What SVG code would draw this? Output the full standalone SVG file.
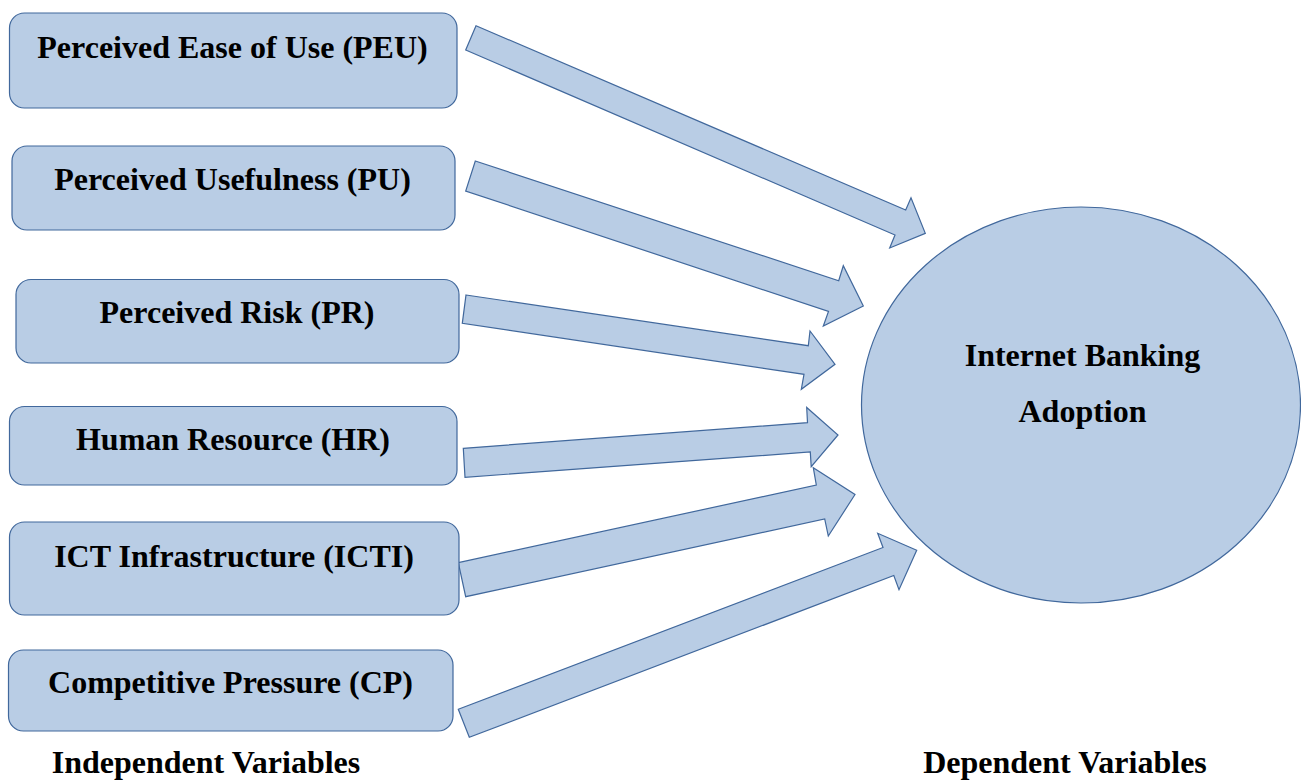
<svg xmlns="http://www.w3.org/2000/svg" width="1301" height="780" viewBox="0 0 1301 780">
<style>
.box{fill:#b9cde5;stroke:#41689c;stroke-width:1.2}
.arr{fill:#b9cde5;stroke:#41689c;stroke-width:1.2;stroke-linejoin:miter}
.t{font-weight:bold;font-size:32px;fill:#000;text-anchor:middle}
</style>
<rect width="1301" height="780" fill="#ffffff"/>
<g id="connectors">
<polygon class="arr" points="476,25.7 905.7,210 911,197.7 925.3,233.3 889.7,248 895,235 465.7,50"/>
<polygon class="arr" points="475.3,161 838.7,280.7 843.3,265.7 863.3,306 823.3,326 828.5,311.5 465.7,191"/>
<polygon class="arr" points="466,295 808.3,345.7 810,331 835,364.3 801.3,389.3 804,374.3 462.3,323.3"/>
<polygon class="arr" points="463.3,448.3 807.5,422.7 806.7,407.5 838,435 811.2,466.7 810.3,452 465,477.3"/>
<polygon class="arr" points="458.3,562.7 816.3,485 813.3,467.7 855,494.5 828.3,536 824.7,519 465.7,596.7"/>
<polygon class="arr" points="458.3,709.3 883,547.5 877.7,533.3 916.7,550.3 899,589.7 893.8,575.5 469.3,737.3"/>
</g>
<g font-family="'Liberation Serif', 'Times New Roman', 'DejaVu Serif', serif">
<g id="peu">
<rect class="box" x="9.5" y="13" width="447.5" height="95" rx="15"/>
<text class="t" x="232.5" y="58">Perceived Ease of Use (PEU)</text>
</g>
<g id="pu">
<rect class="box" x="12" y="146" width="443" height="84" rx="15"/>
<text class="t" x="232.5" y="190">Perceived Usefulness (PU)</text>
</g>
<g id="pr">
<rect class="box" x="16" y="279.5" width="443" height="83.5" rx="15"/>
<text class="t" x="237" y="323">Perceived Risk (PR)</text>
</g>
<g id="hr">
<rect class="box" x="9.5" y="406.5" width="447.5" height="78.5" rx="15"/>
<text class="t" x="233" y="450">Human Resource (HR)</text>
</g>
<g id="icti">
<rect class="box" x="9.5" y="522" width="449.5" height="93" rx="15"/>
<text class="t" x="234" y="567">ICT Infrastructure (ICTI)</text>
</g>
<g id="cp">
<rect class="box" x="8.5" y="650" width="444.5" height="81" rx="15"/>
<text class="t" x="230.5" y="693">Competitive Pressure (CP)</text>
</g>
<g id="iba">
<ellipse class="box" cx="1081" cy="405" rx="219.5" ry="198"/>
<text class="t" x="1082.5" y="366">Internet Banking</text>
<text class="t" x="1082.5" y="422">Adoption</text>
</g>
<g id="labels">
<text class="t" x="206" y="773">Independent Variables</text>
<text class="t" x="1065" y="773">Dependent Variables</text>
</g>
</g>
</svg>
